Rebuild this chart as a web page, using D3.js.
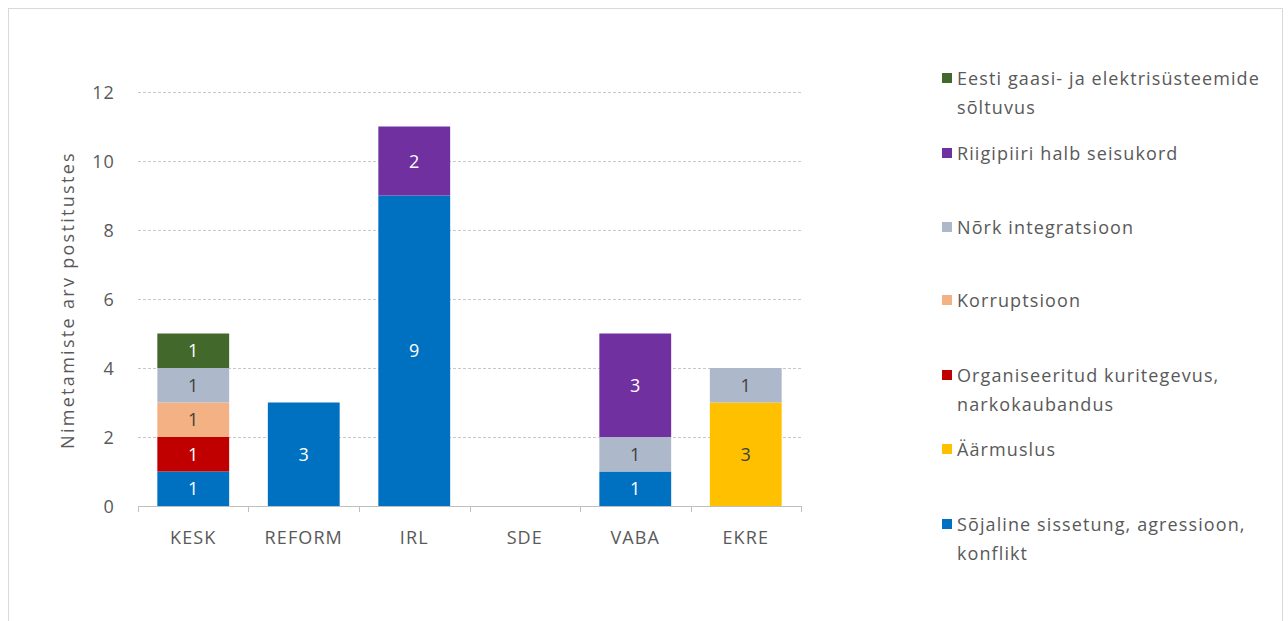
<!DOCTYPE html>
<html>
<head>
<meta charset="utf-8">
<script src="https://cdn.jsdelivr.net/npm/d3@7"></script>
<style>
  body { margin: 0; background: #fff; }
  text { font-family: "Open Sans", sans-serif; }
</style>
</head>
<body>
<div id="chart"></div>
<script>
var parties = ["KESK", "REFORM", "IRL", "SDE", "VABA", "EKRE"];

// stack order, bottom to top
var seriesNames = [
  "Sõjaline sissetung, agressioon, konflikt",
  "Äärmuslus",
  "Organiseeritud kuritegevus, narkokaubandus",
  "Korruptsioon",
  "Nõrk integratsioon",
  "Riigipiiri halb seisukord",
  "Eesti gaasi- ja elektrisüsteemide sõltuvus"
];
var sojaline     = [1, 3, 9, 0, 1, 0];
var aarmuslus    = [0, 0, 0, 0, 0, 3];
var organiseerit = [1, 0, 0, 0, 0, 0];
var korruptsioon = [1, 0, 0, 0, 0, 0];
var integratsioon= [1, 0, 0, 0, 1, 1];
var riigipiir    = [0, 0, 2, 0, 3, 0];
var energia      = [1, 0, 0, 0, 0, 0];
var seriesValues = [sojaline, aarmuslus, organiseerit, korruptsioon, integratsioon, riigipiir, energia];

// legend labels (wrapped as in the original)
var legendLines = [
  ["Sõjaline sissetung, agressioon,", "konflikt"],
  ["Äärmuslus"],
  ["Organiseeritud kuritegevus,", "narkokaubandus"],
  ["Korruptsioon"],
  ["Nõrk integratsioon"],
  ["Riigipiiri halb seisukord"],
  ["Eesti gaasi- ja elektrisüsteemide", "sõltuvus"]
];
var yTicks = [0, 2, 4, 6, 8, 10, 12];

var colors = ["#0070C0", "#FFC000", "#C00000", "#F4B183", "#ADB9CA", "#7030A0", "#43682B"];
var labelColors = ["#fff", "#404040", "#fff", "#404040", "#404040", "#fff", "#fff"];

var width = 1288, height = 621;
var fs = 18, ls = "1.1px";
var svg = d3.select("#chart").append("svg")
  .attr("width", width).attr("height", height);

// outer frame
svg.append("rect")
  .attr("x", 8.5).attr("y", 8.5)
  .attr("width", 1274).attr("height", 640)
  .attr("fill", "none").attr("stroke", "#d9d9d9");

var x = d3.scaleBand().domain(parties).range([138, 801]).paddingInner(0.35).paddingOuter(0.175);
var y = d3.scaleLinear().domain([0, 12]).range([506, 92]);

// gridlines
svg.append("g").selectAll("line")
  .data(yTicks.slice(1))
  .enter().append("line")
  .attr("x1", 138).attr("x2", 801)
  .attr("y1", function(d) { return Math.round(y(d)) + 0.5; })
  .attr("y2", function(d) { return Math.round(y(d)) + 0.5; })
  .attr("stroke", "#c8c8c8").attr("stroke-dasharray", "3,2");

// y tick labels
svg.append("g").selectAll("text")
  .data(yTicks)
  .enter().append("text")
  .attr("x", 115).attr("y", function(d) { return y(d) + 6.5; })
  .attr("text-anchor", "end")
  .attr("fill", "#595959").attr("font-size", fs).style("letter-spacing", ls)
  .text(function(d) { return d; });

svg.append("text")
  .attr("transform", "translate(74,300) rotate(-90)")
  .attr("text-anchor", "middle")
  .attr("fill", "#595959").attr("font-size", fs).style("letter-spacing", "2.3px")
  .text("Nimetamiste arv postitustes");

// stacked data
var rows = parties.map(function(p, i) {
  var r = { party: p };
  seriesNames.forEach(function(s, k) { r[s] = seriesValues[k][i]; });
  return r;
});
var stacked = d3.stack().keys(seriesNames)(rows);

var layers = svg.append("g").selectAll("g")
  .data(stacked)
  .enter().append("g")
  .attr("fill", function(d, k) { return colors[k]; });

layers.selectAll("rect")
  .data(function(d) { return d.filter(function(v) { return v[1] - v[0] > 0; }); })
  .enter().append("rect")
  .attr("x", function(d) { return x(d.data.party); })
  .attr("width", x.bandwidth())
  .attr("y", function(d) { return y(d[1]); })
  .attr("height", function(d) { return y(d[0]) - y(d[1]); });

layers.selectAll("text")
  .data(function(d) { return d.filter(function(v) { return v[1] - v[0] > 0; }); })
  .enter().append("text")
  .attr("x", function(d) { return x(d.data.party) + x.bandwidth() / 2; })
  .attr("y", function(d) { return (y(d[0]) + y(d[1])) / 2 + 6.5; })
  .attr("text-anchor", "middle")
  .attr("font-size", fs)
  .attr("fill", function() { return labelColors[seriesNames.indexOf(d3.select(this.parentNode).datum().key)]; })
  .text(function(d) { return d[1] - d[0]; });

// x axis
var xAxis = svg.append("g").attr("transform", "translate(0,506)");
xAxis.append("line")
  .attr("x1", 138).attr("x2", 801).attr("y1", 0.5).attr("y2", 0.5)
  .attr("stroke", "#bfbfbf");
var step = x.step();
xAxis.selectAll(".tk")
  .data(d3.range(parties.length + 1))
  .enter().append("line")
  .attr("x1", function(i) { return Math.round(x(parties[0]) - x.paddingOuter() * step + i * step) + 0.5; })
  .attr("x2", function(i) { return Math.round(x(parties[0]) - x.paddingOuter() * step + i * step) + 0.5; })
  .attr("y1", 0).attr("y2", 6)
  .attr("stroke", "#bfbfbf");
xAxis.selectAll("text")
  .data(parties)
  .enter().append("text")
  .attr("x", function(d) { return x(d) + x.bandwidth() / 2; })
  .attr("y", 38)
  .attr("text-anchor", "middle")
  .attr("fill", "#595959").attr("font-size", fs).style("letter-spacing", ls)
  .text(function(d) { return d; });

// legend, top entry is last series
var legendY = [524, 449, 375, 300, 227, 153, 78];
var legend = svg.append("g").selectAll("g")
  .data(seriesNames)
  .enter().append("g")
  .attr("transform", function(d, k) { return "translate(942," + legendY[k] + ")"; });
legend.append("rect")
  .attr("x", 0).attr("y", -5).attr("width", 10).attr("height", 10)
  .attr("fill", function(d, k) { return colors[k]; });
legend.append("text")
  .attr("fill", "#595959").attr("font-size", fs).style("letter-spacing", ls)
  .selectAll("tspan")
  .data(function(d, k) { return legendLines[k]; })
  .enter().append("tspan")
  .attr("x", 15)
  .attr("y", function(d, j) { return 6.5 + j * 29; })
  .text(function(d) { return d; });
</script>
</body>
</html>
